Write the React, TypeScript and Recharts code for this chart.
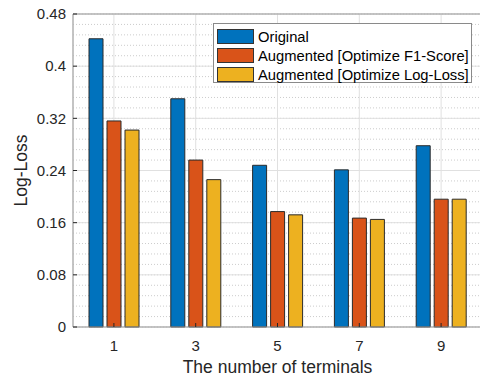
import React from 'react';
import { BarChart, Bar, XAxis, YAxis, CartesianGrid } from 'recharts';

const categories = ['1', '3', '5', '7', '9'];
const original = [0.442, 0.35, 0.248, 0.241, 0.278];
const augmentedF1 = [0.316, 0.256, 0.177, 0.167, 0.196];
const augmentedLogLoss = [0.302, 0.226, 0.172, 0.165, 0.196];
const yTicks = [0, 0.08, 0.16, 0.24, 0.32, 0.4, 0.48];

const series = [
  { key: 'original', name: 'Original', color: '#0072BD' },
  { key: 'f1', name: 'Augmented [Optimize F1-Score]', color: '#D95319' },
  { key: 'logloss', name: 'Augmented [Optimize Log-Loss]', color: '#EDB120' },
];

const data = categories.map((name, i) => ({
  name,
  original: original[i],
  f1: augmentedF1[i],
  logloss: augmentedLogLoss[i],
}));

// dotted minor grid every 0.016
const minorTicks = Array.from({ length: 31 }, (_, i) => i * 0.016);

const FONT = '"Liberation Sans", Arial, Helvetica, sans-serif';
const AXIS = '#999999';
const TEXT = '#262626';

const XLabel = ({ viewBox }: any) => (
  <text
    x={viewBox.x + viewBox.width / 2}
    y={viewBox.y + 46}
    textAnchor="middle"
    fill={TEXT}
    fontSize={17.5}
    fontFamily={FONT}
  >
    The number of terminals
  </text>
);

const YLabel = ({ viewBox }: any) => {
  const cx = viewBox.x + 27;
  const cy = viewBox.y + viewBox.height / 2;
  return (
    <text
      x={cx}
      y={cy}
      transform={`rotate(-90 ${cx} ${cy})`}
      textAnchor="middle"
      fill={TEXT}
      fontSize={17.5}
      fontFamily={FONT}
    >
      Log-Loss
    </text>
  );
};

const ChartLegend = () => (
  <div
    style={{
      position: 'absolute',
      left: 213,
      top: 23,
      width: 259,
      height: 60,
      boxSizing: 'border-box',
      border: '1px solid #8a8a8a',
      background: '#ffffff',
      paddingTop: 3,
      paddingLeft: 3,
      fontFamily: FONT,
      fontSize: 14.75,
      color: '#000000',
    }}
  >
    {series.map((s) => (
      <div key={s.key} style={{ display: 'flex', alignItems: 'center', height: 19 }}>
        <span
          style={{
            display: 'inline-block',
            width: 37,
            height: 15,
            boxSizing: 'border-box',
            background: s.color,
            border: '1px solid #333333',
            marginRight: 4,
          }}
        />
        <span style={{ whiteSpace: 'nowrap' }}>{s.name}</span>
      </div>
    ))}
  </div>
);

export default function App() {
  return (
    <div
      style={{
        position: 'absolute',
        left: 0,
        top: 0,
        width: 480,
        height: 376,
        overflow: 'hidden',
        background: '#ffffff',
      }}
    >
      <BarChart
        width={490}
        height={376}
        data={data}
        margin={{ top: 13, right: 0, left: 0, bottom: 0 }}
        barGap={4}
      >
        <CartesianGrid
          horizontalValues={minorTicks}
          vertical={false}
          stroke="#cccccc"
          strokeDasharray="1 2"
        />
        <CartesianGrid horizontalValues={yTicks} stroke="#e0e0e0" />
        <XAxis
          dataKey="name"
          interval={0}
          height={49}
          tickSize={-4}
          tickMargin={17}
          axisLine={{ stroke: AXIS }}
          tickLine={{ stroke: TEXT }}
          tick={{ fill: TEXT, fontSize: 15, fontFamily: FONT }}
          label={<XLabel />}
        />
        <XAxis
          xAxisId="top"
          orientation="top"
          dataKey="name"
          interval={0}
          height={1}
          tickSize={-4}
          tick={false}
          axisLine={{ stroke: AXIS }}
          tickLine={{ stroke: TEXT }}
        />
        <YAxis
          domain={[0, 0.48]}
          ticks={yTicks}
          interval={0}
          width={73}
          tickSize={-4}
          tickMargin={11}
          axisLine={{ stroke: AXIS }}
          tickLine={{ stroke: TEXT }}
          tick={{ fill: TEXT, fontSize: 15, fontFamily: FONT }}
          label={<YLabel />}
        />
        <YAxis
          yAxisId="right"
          orientation="right"
          domain={[0, 0.48]}
          ticks={yTicks}
          interval={0}
          width={8}
          tickSize={-4}
          tick={false}
          axisLine={{ stroke: AXIS }}
          tickLine={{ stroke: TEXT }}
        />
        {series.map((s) => (
          <Bar
            key={s.key}
            dataKey={s.key}
            name={s.name}
            fill={s.color}
            stroke="#2b2b2b"
            strokeWidth={1}
            barSize={14}
            isAnimationActive={false}
          />
        ))}
      </BarChart>
      <ChartLegend />
    </div>
  );
}
